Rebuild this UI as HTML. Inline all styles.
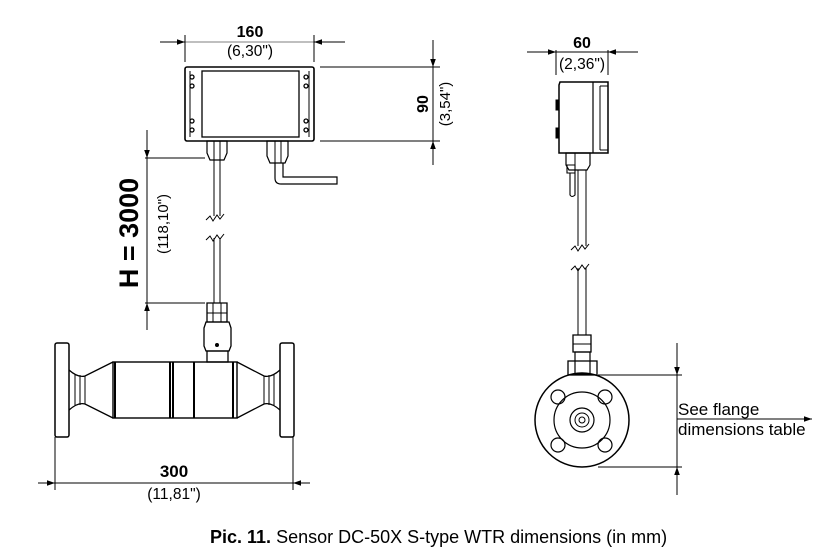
<!DOCTYPE html>
<html><head><meta charset="utf-8"><style>
html,body{margin:0;padding:0;background:#fff;}
svg{display:block;font-family:"Liberation Sans",Arial,sans-serif;}
</style></head><body>
<svg width="836" height="557" viewBox="0 0 836 557" xmlns="http://www.w3.org/2000/svg">
<defs>
<marker id="a" viewBox="0 0 10 10" refX="10" refY="5" markerWidth="13" markerHeight="8" orient="auto-start-reverse" markerUnits="userSpaceOnUse"><path d="M0,1.5 L10,5 L0,8.5 Z" fill="#000"/></marker>
</defs>
<g stroke="#000" fill="none" stroke-width="1">
<line x1="185" y1="35" x2="185" y2="62"/><line x1="314" y1="35" x2="314" y2="62"/>
<line x1="160" y1="42" x2="185" y2="42" marker-end="url(#a)"/>
<line x1="345" y1="42" x2="314" y2="42" marker-end="url(#a)"/>
<line x1="185" y1="42" x2="314" y2="42" stroke-width="0.6"/>
<line x1="320" y1="67" x2="440" y2="67"/><line x1="320" y1="141" x2="440" y2="141"/>
<line x1="433" y1="40" x2="433" y2="67" marker-end="url(#a)"/>
<line x1="433" y1="165" x2="433" y2="141" marker-end="url(#a)"/>
<line x1="433" y1="67" x2="433" y2="141"/>
<rect x="185" y="67" width="129" height="74" rx="2" stroke-width="1.6"/>
<rect x="202" y="71" width="97" height="66" stroke-width="1.3"/>
<line x1="190" y1="71" x2="190" y2="137"/><line x1="309" y1="71" x2="309" y2="137"/>
<g stroke-width="1.3">
<circle cx="192" cy="77" r="2"/><circle cx="192" cy="86" r="2"/><circle cx="192" cy="121" r="2"/><circle cx="192" cy="130" r="2"/>
<circle cx="306" cy="77" r="2"/><circle cx="306" cy="86" r="2"/><circle cx="306" cy="121" r="2"/><circle cx="306" cy="130" r="2"/>
</g>
<path d="M207,141 h20 v12 l-3,7 h-14 l-3,-7 Z" stroke-width="1.2"/>
<line x1="214" y1="141" x2="214" y2="160"/><line x1="220" y1="141" x2="220" y2="160"/>
<path d="M267,141 h21 v15 l-3,7 h-15 l-3,-7 Z" stroke-width="1.2"/>
<line x1="275" y1="141" x2="275" y2="163"/><line x1="281" y1="141" x2="281" y2="163"/>
<path d="M275,163 V178 Q275,184 281,184 H337 V177 H283 V163" stroke-width="1.2"/>
<line x1="214" y1="160" x2="214" y2="216"/><line x1="220" y1="160" x2="220" y2="216"/>
<line x1="214" y1="238" x2="214" y2="303"/><line x1="220" y1="238" x2="220" y2="303"/>
<path d="M206,220 l4,-4 l3,5 l4,-6 l3,4 l4,-5"/>
<path d="M206,240 l4,-4 l3,5 l4,-6 l3,4 l4,-5"/>
<line x1="145" y1="158" x2="205" y2="158"/><line x1="145" y1="303" x2="205" y2="303"/>
<line x1="147" y1="130" x2="147" y2="158" marker-end="url(#a)"/>
<line x1="147" y1="330" x2="147" y2="303" marker-end="url(#a)"/>
<line x1="147" y1="158" x2="147" y2="303"/>
<path d="M207,303 h20 v19 h-20 Z" stroke-width="1.3"/>
<line x1="213" y1="303" x2="213" y2="322"/><line x1="221" y1="303" x2="221" y2="322"/>
<line x1="207" y1="313" x2="227" y2="313"/>
<path d="M206,322 h23 l2,6 v18 l-2,5 h-23 l-2,-5 v-18 Z" stroke-width="1.3"/>
<circle cx="217" cy="345" r="1.5" fill="#000"/>
<rect x="207" y="351" width="21" height="11" stroke-width="1.3"/>
<rect x="55" y="343" width="14" height="94" rx="2" stroke-width="1.5"/>
<rect x="280" y="343" width="14" height="94" rx="2" stroke-width="1.5"/>
<path d="M69,370 Q78,378 85,376 L113,362 M69,410 Q78,402 85,404 L113,418" stroke-width="1.3"/>
<path d="M85,376 V404 M75,374 V406 M80,375 V405"/>
<path d="M280,370 Q271,378 264,376 L237,362 M280,410 Q271,402 264,404 L237,418" stroke-width="1.3"/>
<path d="M264,376 V404 M274,374 V406 M269,375 V405"/>
<rect x="113" y="362" width="124" height="56" stroke-width="1.4"/>
<g stroke-width="2"><line x1="115" y1="362" x2="115" y2="418"/><line x1="170" y1="362" x2="170" y2="418"/><line x1="173" y1="362" x2="173" y2="418"/><line x1="194" y1="362" x2="194" y2="418"/><line x1="233" y1="362" x2="233" y2="418"/></g>
<line x1="55" y1="437" x2="55" y2="490"/><line x1="293" y1="437" x2="293" y2="490"/>
<line x1="38" y1="483" x2="55" y2="483" marker-end="url(#a)"/>
<line x1="310" y1="483" x2="293" y2="483" marker-end="url(#a)"/>
<line x1="55" y1="483" x2="293" y2="483"/>
<line x1="556" y1="50" x2="556" y2="75"/><line x1="608" y1="50" x2="608" y2="75"/>
<line x1="527" y1="52" x2="556" y2="52" marker-end="url(#a)"/>
<line x1="638" y1="52" x2="608" y2="52" marker-end="url(#a)"/>
<line x1="556" y1="52" x2="608" y2="52"/>
<path d="M560,82 H608 V153 H559 V85 Z" stroke-width="1.5"/>
<line x1="593" y1="82" x2="593" y2="153" stroke-width="1.2"/>
<line x1="600" y1="86" x2="600" y2="150"/><line x1="600" y1="86" x2="608" y2="86"/><line x1="600" y1="150" x2="608" y2="150"/>
<rect x="556" y="100" width="3" height="10" fill="#000"/><rect x="556" y="128" width="3" height="10" fill="#000"/>
<path d="M566,153 h24 v12 l-3,5 h-18 l-3,-5 Z" stroke-width="1.2"/>
<line x1="575" y1="153" x2="575" y2="170"/>
<path d="M567,165 h8 v8 h-8 Z M570,173 V195 Q572,198 575,195 V173" stroke-width="1.1"/>
<line x1="578" y1="170" x2="578" y2="246"/><line x1="586" y1="170" x2="586" y2="246"/>
<line x1="578" y1="268" x2="578" y2="335"/><line x1="586" y1="268" x2="586" y2="335"/>
<path d="M571,250 l4,-4 l3,5 l4,-6 l3,4 l4,-5"/>
<path d="M571,270 l4,-4 l3,5 l4,-6 l3,4 l4,-5"/>
<path d="M573,335 h18 v17 h-18 Z" stroke-width="1.3"/><line x1="573" y1="344" x2="591" y2="344"/>
<rect x="568" y="361" width="29" height="14" stroke-width="1.3"/>
<rect x="575" y="352" width="15" height="22" stroke-width="1.2"/>
<circle cx="582" cy="420" r="47" stroke-width="1.5"/>
<circle cx="582" cy="420" r="28" stroke-width="1.2"/>
<circle cx="582" cy="420" r="12" stroke-width="1.2"/>
<circle cx="582" cy="420" r="7"/><circle cx="582" cy="420" r="3"/>
<circle cx="558" cy="397" r="7" stroke-width="1.2"/><circle cx="605" cy="397" r="7" stroke-width="1.2"/>
<circle cx="558" cy="445" r="7" stroke-width="1.2"/><circle cx="605" cy="445" r="7" stroke-width="1.2"/>
<line x1="598" y1="375" x2="682" y2="375"/><line x1="598" y1="467" x2="682" y2="467"/>
<line x1="677" y1="343" x2="677" y2="375" marker-end="url(#a)"/>
<line x1="677" y1="495" x2="677" y2="467" marker-end="url(#a)"/>
<line x1="677" y1="375" x2="677" y2="467"/>
<line x1="677" y1="419" x2="812" y2="419" marker-end="url(#a)"/>
</g>
<g fill="#000">
<text x="250" y="37" font-size="16" font-weight="bold" text-anchor="middle">160</text>
<text x="250" y="56" font-size="15.5" text-anchor="middle">(6,30")</text>
<text transform="translate(428,104) rotate(-90)" font-size="16" font-weight="bold" text-anchor="middle">90</text>
<text transform="translate(450,104) rotate(-90)" font-size="15" text-anchor="middle">(3,54")</text>
<text transform="translate(138,233) rotate(-90)" font-size="27" font-weight="bold" text-anchor="middle">H = 3000</text>
<text transform="translate(168,224) rotate(-90)" font-size="15" text-anchor="middle">(118,10")</text>
<text x="174" y="477" font-size="17" font-weight="bold" text-anchor="middle">300</text>
<text x="174" y="499" font-size="15.5" text-anchor="middle">(11,81")</text>
<text x="582" y="48" font-size="16" font-weight="bold" text-anchor="middle">60</text>
<text x="582" y="69" font-size="15.5" text-anchor="middle">(2,36")</text>
<text x="678" y="415" font-size="17">See flange</text>
<text x="678" y="435" font-size="17">dimensions table</text>
<text x="210" y="543" font-size="18"><tspan font-weight="bold">Pic. 11.</tspan> Sensor DC-50X S-type WTR dimensions (in mm)</text>
</g>
</svg>
</body></html>
